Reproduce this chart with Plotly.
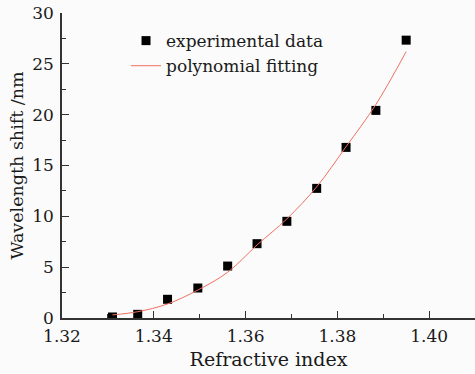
import plotly.graph_objects as go

ri_exp = [1.3310, 1.3365, 1.3430, 1.3496, 1.3561, 1.3625, 1.3690, 1.3755, 1.3819, 1.3884, 1.3950]
shift_exp = [0.10, 0.36, 1.84, 2.95, 5.11, 7.31, 9.51, 12.75, 16.78, 20.42, 27.33]

# polynomial fitting curve
ri_fit = [1.3310, 1.3365, 1.3430, 1.3496, 1.3561, 1.3625, 1.3690, 1.3755, 1.3819, 1.3884, 1.3950]
shift_fit = [0.30, 0.62, 1.38, 2.75, 4.50, 7.18, 9.75, 12.9, 16.85, 21.0, 26.2]

x_ticks = [1.32, 1.34, 1.36, 1.38, 1.40]
y_ticks = [0, 5, 10, 15, 20, 25, 30]

font_family = "DejaVu Serif"
axis_color = "#333333"

fig = go.Figure()
fig.add_trace(go.Scatter(
    x=ri_exp, y=shift_exp, mode="markers", name="experimental data",
    marker=dict(symbol="square", size=9, color="black"),
))
fig.add_trace(go.Scatter(
    x=ri_fit, y=shift_fit, mode="lines", name="polynomial fitting",
    line=dict(color="#f07060", width=1, shape="spline", smoothing=1.0),
))

fig.update_layout(
    width=475, height=374,
    margin=dict(l=62, r=0, t=13, b=56, autoexpand=False),
    paper_bgcolor="#fbfbfb", plot_bgcolor="#fbfbfb",
    font=dict(family=font_family, size=17, color="#1a1a1a"),
    showlegend=True,
    legend=dict(x=0.155, y=0.967, xanchor="left", yanchor="top",
                bgcolor="rgba(0,0,0,0)", font=dict(size=17),
                tracegroupgap=0, itemwidth=30),
)
fig.update_xaxes(
    range=[1.32, 1.41], tickvals=x_ticks, ticktext=[f"{v:.2f}" for v in x_ticks],
    ticks="inside", ticklen=7, tickwidth=1.2, tickcolor=axis_color,
    minor=dict(dtick=0.01, tick0=1.32, ticks="inside", ticklen=4, tickwidth=1.2, tickcolor=axis_color),
    showline=True, linecolor=axis_color, linewidth=1.5, showgrid=False, zeroline=False,
    automargin=False, ticklabelstandoff=2,
    title=dict(text="Refractive index", standoff=8, font=dict(size=19)),
    tickfont=dict(size=17),
)
fig.update_yaxes(
    range=[0, 30], tickvals=y_ticks,
    ticks="inside", ticklen=7, tickwidth=1.2, tickcolor=axis_color,
    minor=dict(dtick=2.5, tick0=0, ticks="inside", ticklen=4, tickwidth=1.2, tickcolor=axis_color),
    showline=True, linecolor=axis_color, linewidth=1.5, showgrid=False, zeroline=False,
    automargin=False, ticklabelstandoff=3,
    title=dict(text="Wavelength shift /nm", standoff=4, font=dict(size=17.5)),
    tickfont=dict(size=17),
)

fig.write_html(
    "out.html",
    config={"displayModeBar": False},
    post_script="document.body.style.margin='0';document.body.style.background='#fbfbfb';",
)
